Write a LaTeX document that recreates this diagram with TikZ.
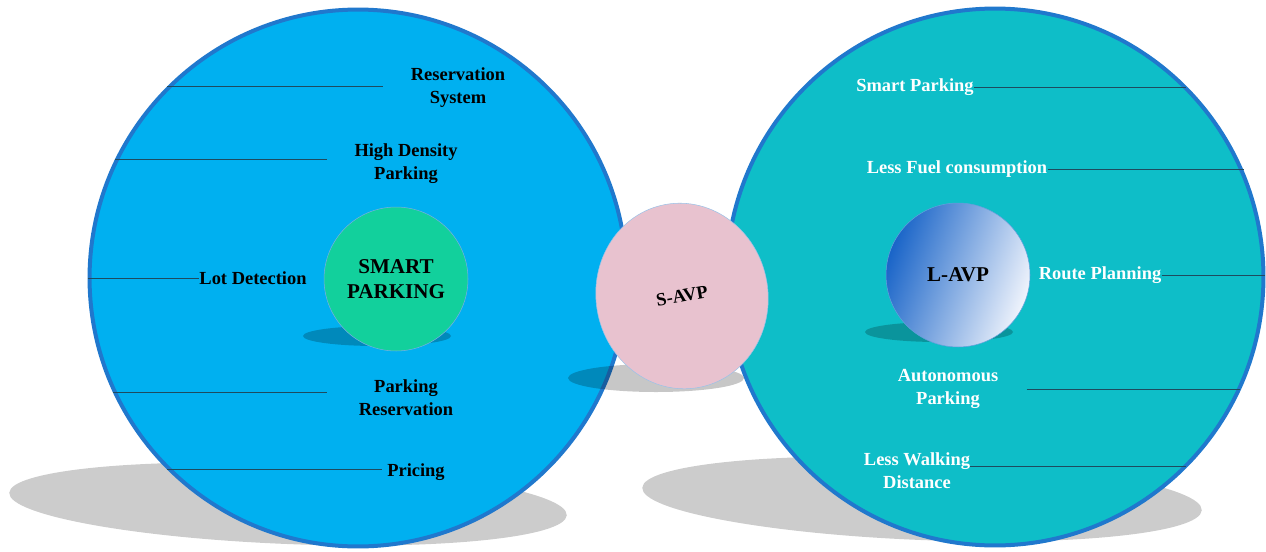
\documentclass[tikz,border=0pt]{standalone}
\usepackage{fontspec}
\setmainfont{Liberation Serif}
\usetikzlibrary{shapes.geometric}
\definecolor{skyfill}{RGB}{0,176,240}
\definecolor{tealfill}{RGB}{14,190,200}
\definecolor{ringblue}{RGB}{32,120,205}
\definecolor{mintfill}{RGB}{18,208,156}
\definecolor{pinkfill}{RGB}{232,194,207}
\definecolor{leadline}{RGB}{30,75,95}
\begin{document}
\begin{tikzpicture}[x=0.02cm,y=-0.02cm,
  bigring/.style={circle,draw=ringblue,line width=0.08cm,minimum size=10.74cm,inner sep=0pt},
  hub/.style={circle,minimum size=2.88cm,inner sep=0pt,line width=0.3pt,align=center,font=\fontsize{12}{14}\selectfont\bfseries},
  lbl/.style={inner sep=0pt,align=center,font=\fontsize{10.5}{13}\selectfont\bfseries},
  lead/.style={draw=leadline,line width=0.4pt}]
\useasboundingbox (0,0) rectangle (1266,551);
\fill[black!20,rotate around={-2.3:(288,504)}] (288,504) ellipse [x radius=279,y radius=40];
\fill[black!20,rotate around={-2.3:(922,499)}] (922,499) ellipse [x radius=280,y radius=41];
\node[bigring,fill=skyfill] (parkc) at (358,278) {};
\node[bigring,fill=tealfill] (avpc) at (995,277) {};
\fill[black,opacity=0.22] (377,336) ellipse [x radius=74,y radius=10];
\fill[black,opacity=0.22] (939,332) ellipse [x radius=74,y radius=10];
\fill[black,opacity=0.22] (656,378) ellipse [x radius=88,y radius=14];
\node[hub,fill=mintfill,draw=ringblue!60] (smart) at (396,279) {SMART\\PARKING};
\node[hub,draw=ringblue!70,top color={rgb,255:red,25;green,100;blue,200},middle color={rgb,255:red,130;green,170;blue,225},bottom color={rgb,255:red,240;green,244;blue,252},shading angle=70] (lavp) at (958,275) {L-AVP};
\node[ellipse,minimum width=3.44cm,minimum height=3.72cm,inner sep=0pt,fill=pinkfill,draw=ringblue!45,line width=0.3pt,rotate=10,font=\fontsize{10.5}{13}\selectfont\bfseries] (savp) at (682,296) {S-AVP};
\node[lbl] (resv) at (458,88) {Reservation\\System};
\node[lbl] (hdp) at (406,164) {High Density\\Parking};
\node[lbl] (lot) at (253,278) {Lot Detection};
\node[lbl] (pres) at (406,398) {Parking\\Reservation};
\node[lbl] (price) at (416,472) {Pricing};
\node[lbl,text=white] (sp) at (915,87) {Smart Parking};
\node[lbl,text=white] (lfc) at (957,169) {Less Fuel consumption};
\node[lbl,text=white] (route) at (1100,275) {Route Planning};
\node[lbl,text=white] (auto) at (948,389) {Autonomous\\Parking};
\node[lbl,text=white] (walk) at (917,471) {Less Walking\\Distance};
\draw[lead,shorten >=0.56cm] (parkc.135.3) -- (parkc.135.3 -| resv.west);
\draw[lead,shorten >=0.54cm] (parkc.154.1) -- (parkc.154.1 -| hdp.west);
\draw[lead] (parkc.west) -- (lot.west);
\draw[lead,shorten >=0.64cm] (parkc.205.2) -- (parkc.205.2 -| pres.west);
\draw[lead,shorten >=0.1cm] (parkc.225) -- (parkc.225 -| price.west);
\draw[lead] (sp.east) -- (sp.east -| avpc.45);
\draw[lead] (lfc.east) -- (lfc.east -| avpc.23.8);
\draw[lead] (route.east) -- (route.east -| avpc.east);
\draw[lead,shorten <=0.56cm] (auto.east) -- (auto.east -| avpc.335.7);
\draw[lead] ([yshift=0.1cm]walk.east) -- ([yshift=0.1cm]walk.east -| avpc.315.6);
\end{tikzpicture}
\end{document}
